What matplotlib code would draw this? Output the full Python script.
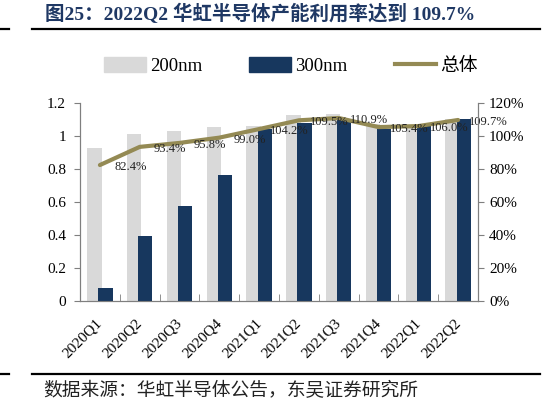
import matplotlib
matplotlib.use("Agg")
import matplotlib.pyplot as plt
from matplotlib.patches import Patch
from matplotlib.lines import Line2D
from matplotlib.transforms import ScaledTranslation

plt.rcParams['font.family'] = ['Liberation Serif', 'Noto Sans CJK SC', 'DejaVu Sans']

# datos
trimestres = ['2020Q1', '2020Q2', '2020Q3', '2020Q4', '2021Q1',
              '2021Q2', '2021Q3', '2021Q4', '2022Q1', '2022Q2']
uso_200nm = [0.93, 1.015, 1.03, 1.055, 1.06, 1.13, 1.135, 1.07, 1.06, 1.10]
uso_300nm = [0.08, 0.395, 0.575, 0.765, 1.045, 1.08, 1.10, 1.04, 1.065, 1.105]
uso_total = [0.824, 0.934, 0.958, 0.990, 1.042, 1.095, 1.109, 1.054, 1.060, 1.097]
etiquetas_total = ['82.4%', '93.4%', '95.8%', '99.0%', '104.2%',
                   '109.5%', '110.9%', '105.4%', '106.0%', '109.7%']
ticks_izq = [0, 0.2, 0.4, 0.6, 0.8, 1.0, 1.2]
etiq_izq = ['0', '0.2', '0.4', '0.6', '0.8', '1', '1.2']
etiq_der = ['0%', '20%', '40%', '60%', '80%', '100%', '120%']

titulo = '图25：2022Q2 华虹半导体产能利用率达到 109.7%'
fuente = '数据来源：华虹半导体公告，东吴证券研究所'

color_200 = '#D9D9D9'
color_300 = '#17375E'
color_linea = '#948A54'
color_eje = '#7f7f7f'

################################################################################

fig = plt.figure(figsize=(5.6, 4.05), dpi=100)
ax = fig.add_axes([0.1429, 0.2568, 0.7107, 0.4889])

x = list(range(len(trimestres)))
ancho = 0.36
ax.bar([i - 0.14 for i in x], uso_200nm, ancho, color=color_200, zorder=2)
ax.bar([i + 0.14 for i in x], uso_300nm, ancho, color=color_300, zorder=3)
ax.plot(x, uso_total, color=color_linea, linewidth=3, zorder=4,
        solid_capstyle='round')

for i in x:
    ax.annotate(etiquetas_total[i], (x[i], uso_total[i]), xytext=(22, -1.5),
                textcoords='offset points', ha='center', va='center',
                fontsize=9, color='#222222', zorder=5)

ax.set_xlim(-0.5, len(trimestres) - 0.5)
ax.set_ylim(0, 1.2)
ax.set_yticks(ticks_izq)
ax.set_yticklabels(etiq_izq, fontsize=11)
ax.set_xticks(x)
ax.set_xticklabels(trimestres, rotation=45, ha='right', fontsize=11)
ax.set_xticks([i + 0.5 for i in x[:-1]], minor=True)
ax.tick_params(axis='x', which='major', length=0, pad=11)
ax.tick_params(axis='x', which='minor', direction='in', length=5,
               color=color_eje)
ax.tick_params(axis='y', length=4, color=color_eje, pad=6)

# correr un poco las etiquetas del eje x hacia la derecha
corrimiento = ScaledTranslation(5 / 100, 0, fig.dpi_scale_trans)
for etiq in ax.get_xticklabels():
    etiq.set_transform(etiq.get_transform() + corrimiento)

ax2 = ax.twinx()
ax2.set_ylim(0, 1.2)
ax2.set_yticks(ticks_izq)
ax2.set_yticklabels(etiq_der, fontsize=11)
ax2.tick_params(axis='y', length=4, color=color_eje, pad=4)

for a in (ax, ax2):
    a.spines['top'].set_visible(False)
    for s in ('left', 'right', 'bottom'):
        a.spines[s].set_color(color_eje)

# leyenda arriba
manejadores = [Patch(color=color_200, label='200nm'),
               Patch(color=color_300, label='300nm'),
               Line2D([], [], color=color_linea, linewidth=3, label='总体')]
fig.legend(handles=manejadores, loc='center', bbox_to_anchor=(0.52, 0.837),
           ncol=3, frameon=False, fontsize=13.5, handlelength=2.2,
           handleheight=0.8, handletextpad=0.25, columnspacing=2.5)

# titulo, fuente y lineas
fig.text(45 / 560, 1 - 14 / 405, titulo, fontsize=14, fontweight='bold',
         color='#1f3864', ha='left', va='center')
fig.text(43 / 560, 1 - 391 / 405, fuente, fontsize=13.5, color='#222222',
         ha='left', va='center')

for yy in (1 - 29 / 405, 1 - 374 / 405):
    fig.add_artist(Line2D([32 / 560, 540 / 560], [yy, yy], color='black',
                          linewidth=1.6))
    fig.add_artist(Line2D([0, 9 / 560], [yy, yy], color='black',
                          linewidth=1.6))

fig.savefig('out.png', dpi=100)
